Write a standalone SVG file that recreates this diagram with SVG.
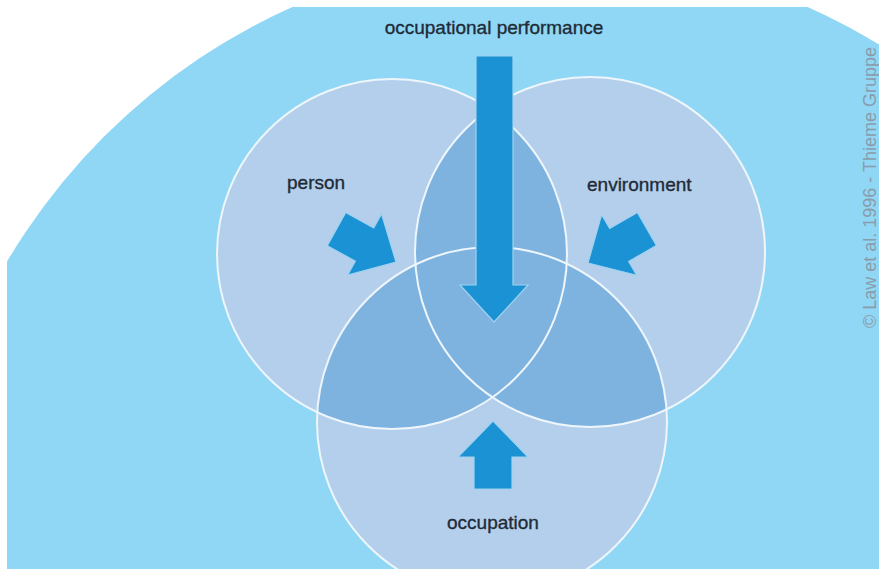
<svg xmlns="http://www.w3.org/2000/svg" width="879" height="569" viewBox="0 0 879 569">
  <style>
    .lbl { font-family: "Liberation Sans", Arial, sans-serif; font-size: 19px; fill: #1f2b37; stroke: #1f2b37; stroke-width: 0.35; }
    .circ { fill: #b3cfeb; }
    .ov { fill: #7eb3df; }
    .ring { fill: none; stroke: #eef6fc; stroke-width: 2; }
    .arr { fill: #1a92d4; stroke: #9fd2f0; stroke-width: 1.2; stroke-linejoin: miter; }
    .copy { font-family: "Liberation Sans", Arial, sans-serif; font-size: 18px; fill: #8a9cab; }
  </style>
  <defs>
    <clipPath id="frame"><rect x="7" y="7" width="872" height="562"/></clipPath>
    <clipPath id="clipP"><circle cx="392" cy="254" r="175"/></clipPath>
    <clipPath id="clipE"><circle cx="590" cy="252" r="175"/></clipPath>
    <path id="arrowShape" d="M0,0 L-36,-35 L-36,-19 L-68,-19 L-68,19 L-36,19 L-36,35 Z"/>
  </defs>

  <rect x="0" y="0" width="879" height="569" fill="#ffffff"/>
  <g id="background">
    <circle cx="550" cy="583" r="631" fill="#8fd7f5" clip-path="url(#frame)"/>
  </g>

  <g id="person">
    <circle class="circ" cx="392" cy="254" r="175"/>
  </g>
  <g id="environment">
    <circle class="circ" cx="590" cy="252" r="175"/>
  </g>
  <g id="occupation">
    <circle class="circ" cx="492" cy="422" r="175"/>
  </g>

  <g id="overlaps">
    <circle class="ov" cx="590" cy="252" r="175" clip-path="url(#clipP)"/>
    <circle class="ov" cx="492" cy="422" r="175" clip-path="url(#clipP)"/>
    <circle class="ov" cx="492" cy="422" r="175" clip-path="url(#clipE)"/>
  </g>

  <g id="rings">
    <circle class="ring" cx="392" cy="254" r="175"/>
    <circle class="ring" cx="590" cy="252" r="175"/>
    <circle class="ring" cx="492" cy="422" r="175"/>
  </g>

  <g id="connectors">
    <polygon id="arrow-performance" class="arr" points="476,56 513,56 513,285 528,285 494,322 460,285 476,285"/>
    <use id="arrow-person" class="arr" href="#arrowShape" transform="translate(396,262) rotate(29)"/>
    <use id="arrow-environment" class="arr" href="#arrowShape" transform="translate(588,263) rotate(150)"/>
    <use id="arrow-occupation" class="arr" href="#arrowShape" transform="translate(493,421) rotate(-90)"/>
  </g>

  <g id="labels">
    <text class="lbl" x="494" y="34" text-anchor="middle">occupational performance</text>
    <text class="lbl" x="287" y="189">person</text>
    <text class="lbl" x="587" y="191">environment</text>
    <text class="lbl" x="447" y="529">occupation</text>
  </g>

  <text class="copy" transform="translate(876,328) rotate(-90)">© Law et al. 1996 - Thieme Gruppe</text>
</svg>
